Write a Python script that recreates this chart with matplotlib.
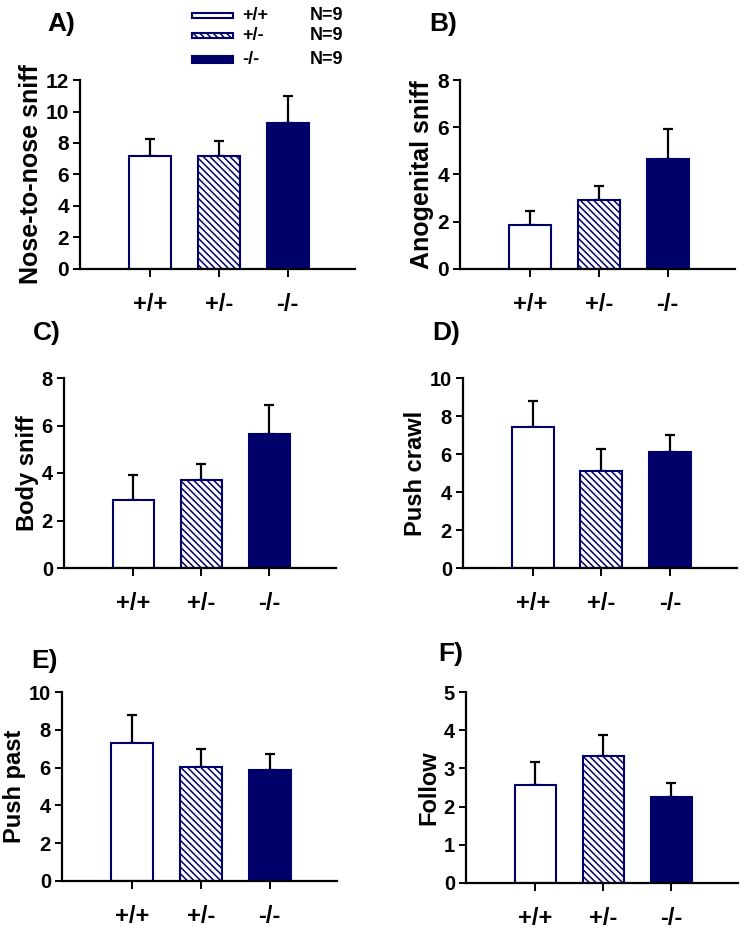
import numpy as np
import matplotlib
matplotlib.use('Agg')
import matplotlib.pyplot as plt
from matplotlib.patches import Rectangle

plt.rcParams.update({
    'font.family': ['Liberation Sans', 'DejaVu Sans'],
    'font.weight': 'bold',
    'hatch.linewidth': 1.1,
    'axes.linewidth': 1.6,
})

NAVY = '#00006b'

genotypes = ['+/+', '+/-', '-/-']
n_per_group = [9, 9, 9]

nose_to_nose = [7.2, 7.15, 9.3]
nose_to_nose_err = [1.03, 0.95, 1.7]
anogenital = [1.86, 2.9, 4.65]
anogenital_err = [0.58, 0.63, 1.26]
body_sniff = [2.87, 3.69, 5.64]
body_sniff_err = [1.05, 0.69, 1.21]
push_crawl = [7.42, 5.1, 6.12]
push_crawl_err = [1.37, 1.18, 0.86]
push_past = [7.32, 6.03, 5.89]
push_past_err = [1.48, 0.97, 0.85]
follow = [2.57, 3.33, 2.25]
follow_err = [0.6, 0.54, 0.37]

panels = [
    ('A)', 'Nose-to-nose sniff', nose_to_nose, nose_to_nose_err, 12, 2),
    ('B)', 'Anogenital sniff', anogenital, anogenital_err, 8, 2),
    ('C)', 'Body sniff', body_sniff, body_sniff_err, 8, 2),
    ('D)', 'Push crawl', push_crawl, push_crawl_err, 10, 2),
    ('E)', 'Push past', push_past, push_past_err, 10, 2),
    ('F)', 'Follow', follow, follow_err, 5, 1),
]

# axes boxes in pixels: left, top, right, bottom
W, H = 753, 933
boxes = [
    (80, 80, 355, 269),
    (460, 80, 735, 269),
    (64, 378, 336, 568),
    (463, 378, 737, 568),
    (62, 692, 337, 881),
    (466, 692, 738, 883),
]
label_pos = [(47, 24), (429, 24), (33, 333), (432, 333), (31, 661), (438, 654)]
big = [True, True, False, False, False, False]

fig = plt.figure(figsize=(W / 100, H / 100), dpi=100)

faces = ['white', 'white', NAVY]
hatches = ['', '\\' * 5, '']
x = np.arange(len(genotypes))

for (tag, ylab, vals, errs, ymax, step), (l, t, r, b), fs_big in zip(panels, boxes, big):
    ax = fig.add_axes([l / W, 1 - b / H, (r - l) / W, (b - t) / H])
    fs = 15 if fs_big else 14.5
    for i in range(len(genotypes)):
        ax.bar(x[i], vals[i], width=0.61, color=faces[i], edgecolor=NAVY,
               hatch=hatches[i], linewidth=1.5, zorder=2)
    ax.errorbar(x, vals, yerr=[np.zeros(len(errs)), errs], fmt='none',
                ecolor='black', elinewidth=1.6, capsize=3.5, capthick=1.6, zorder=1)
    ax.set_xlim(-1.02, 2.98)
    ax.set_ylim(0, ymax)
    ax.set_yticks(np.arange(0, ymax + 0.01, step))
    ax.set_xticks(x)
    ax.set_xticklabels(genotypes, fontsize=17, fontweight='bold')
    ax.tick_params(axis='y', labelsize=fs, length=5, width=1.4, pad=3)
    ax.tick_params(axis='x', length=6, width=1.4, pad=11)
    for s in ['top', 'right']:
        ax.spines[s].set_visible(False)
    ax.set_ylabel(ylab, fontsize=18 if fs_big else 17, fontweight='bold', labelpad=2)
    ax.set_facecolor('none')

# overlay for panel labels and legend
ov = fig.add_axes([0, 0, 1, 1])
ov.set_xlim(0, W)
ov.set_ylim(H, 0)
ov.axis('off')
ov.patch.set_alpha(0)

for (tag, *_), (px, py) in zip(panels, label_pos):
    ov.text(px, py, tag, fontsize=19, fontweight='bold', va='center', ha='left')

rows_y = [15.5, 35, 59]
row_h = [5, 5, 7]
for i, g in enumerate(genotypes):
    ov.add_patch(Rectangle((192, rows_y[i] - row_h[i] / 2), 41, row_h[i],
                           facecolor=faces[i], edgecolor=NAVY, hatch=hatches[i],
                           linewidth=1.5))
    ov.text(242, rows_y[i], g, fontsize=13, fontweight='bold', va='center', ha='left')
    ov.text(310, rows_y[i], f'N={n_per_group[i]}', fontsize=13, fontweight='bold',
            va='center', ha='left')

fig.savefig('out.png', dpi=100)
